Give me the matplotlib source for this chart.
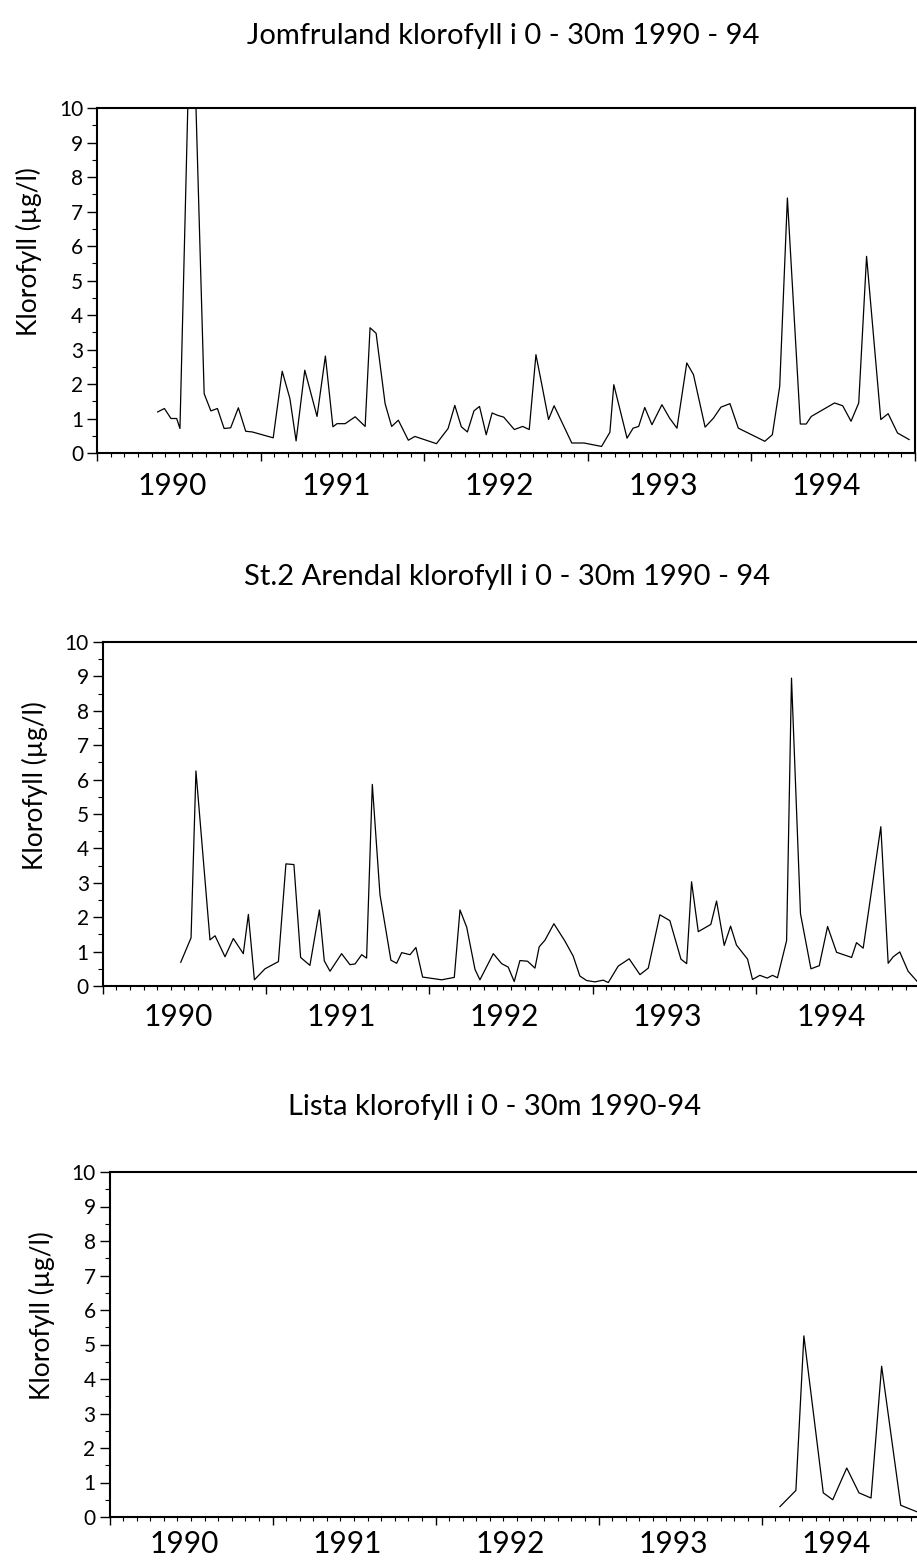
import matplotlib
matplotlib.use('Agg')
import matplotlib.pyplot as plt
from matplotlib.ticker import MultipleLocator

plt.rcParams['font.family'] = ['Lato', 'DejaVu Sans']

# Jomfruland (decimal year, chlorophyll ug/l); peak in 1990 goes off the scale
jom_year = [1990.371, 1990.412, 1990.452, 1990.487, 1990.507, 1990.578, 1990.655, 1990.696,
            1990.736, 1990.777, 1990.817, 1990.864, 1990.909, 1990.949, 1991.077, 1991.132,
            1991.179, 1991.217, 1991.270, 1991.345, 1991.396, 1991.442, 1991.467, 1991.517,
            1991.578, 1991.639, 1991.669, 1991.706, 1991.761, 1991.801, 1991.842, 1991.903,
            1991.943, 1992.075, 1992.146, 1992.187, 1992.227, 1992.264, 1992.304, 1992.338,
            1992.379, 1992.415, 1992.450, 1992.486, 1992.551, 1992.602, 1992.642, 1992.683,
            1992.719, 1992.760, 1992.794, 1992.902, 1992.977, 1993.084, 1993.135, 1993.159,
            1993.240, 1993.277, 1993.311, 1993.348, 1993.392, 1993.453, 1993.500, 1993.545,
            1993.605, 1993.646, 1993.717, 1993.768, 1993.814, 1993.869, 1993.920, 1994.082,
            1994.128, 1994.173, 1994.220, 1994.299, 1994.335, 1994.366, 1994.508, 1994.558,
            1994.609, 1994.656, 1994.704, 1994.791, 1994.836, 1994.893, 1994.964]
jom_chl = [1.19, 1.29, 1.00, 1.00, 0.71, 14.5, 1.72, 1.22, 1.29, 0.71, 0.73, 1.31, 0.63, 0.61,
           0.44, 2.37, 1.58, 0.35, 2.40, 1.06, 2.81, 0.76, 0.85, 0.85, 1.05, 0.77, 3.63, 3.47,
           1.43, 0.77, 0.95, 0.37, 0.48, 0.27, 0.71, 1.38, 0.76, 0.61, 1.22, 1.35, 0.53, 1.16,
           1.09, 1.04, 0.68, 0.77, 0.68, 2.85, 1.98, 0.97, 1.37, 0.29, 0.29, 0.19, 0.60, 1.98,
           0.43, 0.72, 0.77, 1.32, 0.82, 1.40, 1.01, 0.72, 2.61, 2.27, 0.75, 1.01, 1.33, 1.43,
           0.72, 0.34, 0.53, 1.93, 7.39, 0.84, 0.84, 1.06, 1.45, 1.37, 0.92, 1.45, 5.70, 0.97,
           1.14, 0.58, 0.39]

# St.2 Arendal
are_year = [1990.478, 1990.541, 1990.571, 1990.657, 1990.688, 1990.749, 1990.800, 1990.861,
            1990.892, 1990.929, 1990.994, 1991.076, 1991.122, 1991.171, 1991.212, 1991.269,
            1991.327, 1991.357, 1991.392, 1991.463, 1991.514, 1991.545, 1991.586, 1991.616,
            1991.651, 1991.698, 1991.765, 1991.800, 1991.831, 1991.882, 1991.918, 1991.959,
            1992.076, 1992.153, 1992.188, 1992.229, 1992.280, 1992.310, 1992.392, 1992.443,
            1992.483, 1992.520, 1992.555, 1992.602, 1992.647, 1992.673, 1992.708, 1992.763,
            1992.830, 1992.881, 1992.922, 1992.963, 1993.014, 1993.065, 1993.096, 1993.157,
            1993.224, 1993.290, 1993.341, 1993.412, 1993.473, 1993.541, 1993.576, 1993.606,
            1993.647, 1993.724, 1993.759, 1993.806, 1993.845, 1993.881, 1993.949, 1993.979,
            1994.024, 1994.069, 1994.102, 1994.132, 1994.188, 1994.218, 1994.273, 1994.337,
            1994.388, 1994.439, 1994.494, 1994.586, 1994.616, 1994.657, 1994.765, 1994.810,
            1994.841, 1994.881, 1994.932, 1994.986]
are_chl = [0.69, 1.40, 6.25, 1.34, 1.46, 0.85, 1.38, 0.94, 2.08, 0.18, 0.50, 0.71, 3.55, 3.53,
           0.83, 0.60, 2.21, 0.73, 0.43, 0.94, 0.62, 0.64, 0.91, 0.81, 5.86, 2.65, 0.75, 0.66,
           0.97, 0.91, 1.12, 0.26, 0.18, 0.25, 2.21, 1.71, 0.48, 0.18, 0.94, 0.65, 0.55, 0.13,
           0.74, 0.72, 0.52, 1.14, 1.33, 1.81, 1.31, 0.87, 0.29, 0.16, 0.12, 0.17, 0.10, 0.58,
           0.79, 0.33, 0.52, 2.07, 1.90, 0.78, 0.65, 3.03, 1.58, 1.79, 2.47, 1.18, 1.74, 1.19,
           0.78, 0.19, 0.31, 0.23, 0.31, 0.24, 1.32, 8.95, 2.10, 0.50, 0.59, 1.73, 0.98, 0.83,
           1.26, 1.10, 4.63, 0.66, 0.85, 0.99, 0.43, 0.14]

# Lista
lis_year = [1994.113, 1994.211, 1994.260, 1994.379, 1994.437, 1994.523, 1994.598, 1994.672,
            1994.737, 1994.854, 1994.954]
lis_chl = [0.30, 0.77, 5.25, 0.70, 0.50, 1.42, 0.70, 0.55, 4.37, 0.34, 0.15]

years = [1990, 1991, 1992, 1993, 1994]
titles = ['Jomfruland klorofyll i 0 - 30m 1990 - 94',
          'St.2 Arendal klorofyll i 0 - 30m 1990 - 94',
          'Lista klorofyll i 0 - 30m 1990-94']

W, H = 917, 1560
fig = plt.figure(figsize=(W / 100, H / 100), dpi=100)

# axes boxes in pixels: left, zero line (y from top), width of 5 years, height
boxes = [(97, 453, 818, 345), (102.7, 986, 816.5, 344), (109.5, 1517, 815, 345)]
title_pos = [(503, 36), (507, 577), (495, 1107)]
label_drop = [33, 31, 27]  # px from zero line to year label centre
series = [(jom_year, jom_chl), (are_year, are_chl), (lis_year, lis_chl)]

for (l, z, w, h), (tx, ty), drop, title, (xs, ys) in zip(boxes, title_pos, label_drop,
                                                         titles, series):
    ax = fig.add_axes([l / W, 1 - z / H, w / W, h / H])
    ax.plot(xs, ys, color='black', linewidth=0.9)
    ax.set_xlim(1990, 1995)
    ax.set_ylim(0, 10)

    ax.xaxis.set_major_locator(MultipleLocator(1))
    ax.xaxis.set_minor_locator(MultipleLocator(1 / 12))
    ax.set_xticklabels([])
    ax.yaxis.set_major_locator(MultipleLocator(1))
    ax.yaxis.set_minor_locator(MultipleLocator(0.5))
    ax.tick_params(axis='x', which='major', direction='out', length=6, width=1)
    ax.tick_params(axis='x', which='minor', direction='out', length=3, width=0.8)
    ax.tick_params(axis='y', which='major', direction='out', length=7, width=1,
                   labelsize=15, pad=3)
    ax.tick_params(axis='y', which='minor', direction='out', length=3.5, width=0.8)
    for sp in ax.spines.values():
        sp.set_linewidth(1.5)

    # year labels sit in the middle of each year
    for yr in years:
        ax.text(yr + 0.46, -drop / h, str(yr), transform=ax.get_xaxis_transform(),
                ha='center', va='center', fontsize=21.5)

    ax.set_ylabel('Klorofyll (µg/l)', fontsize=19)
    ax.yaxis.set_label_coords(-0.067, 0.583)

    fig.text(tx / W, 1 - ty / H, title, ha='center', va='center', fontsize=21)

fig.savefig('out.png', dpi=100)
